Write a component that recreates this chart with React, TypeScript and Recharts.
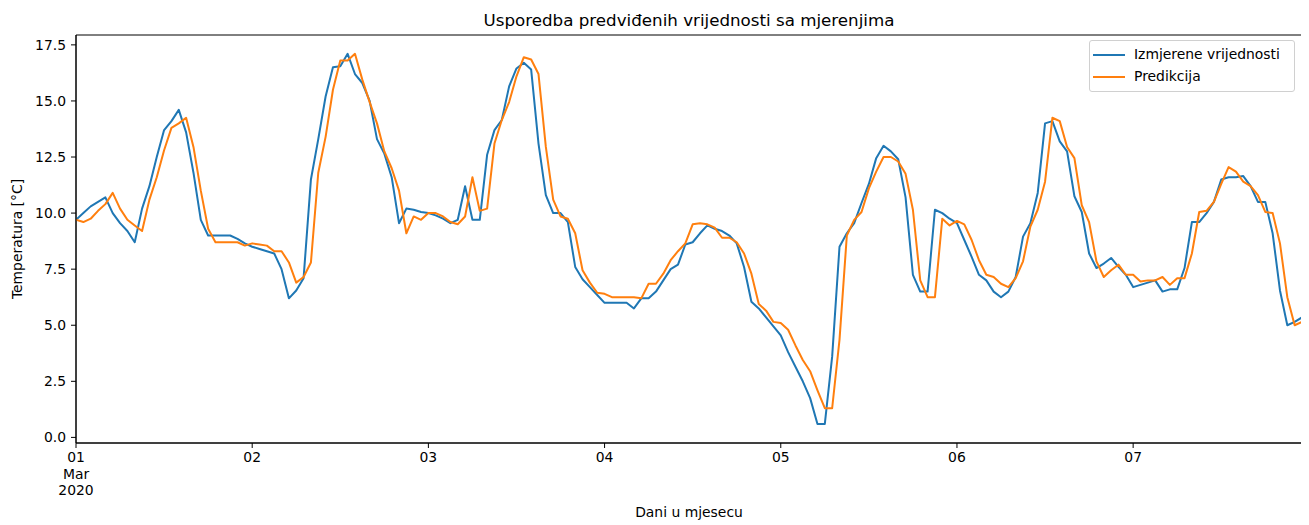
import React from 'react';
import { LineChart, Line, XAxis, YAxis, ReferenceArea } from 'recharts';

// hourly readings, 1 Mar 2020 00:00 .. 7 Mar 2020 23:00
const measured = [
  9.7, 10.0, 10.3, 10.5, 10.7, 10.0, 9.55, 9.2, 8.7, 10.2,
  11.2, 12.5, 13.7, 14.1, 14.6, 13.6, 11.8, 9.7, 9.0, 9.0,
  9.0, 9.0, 8.85, 8.65, 8.5, 8.4, 8.3, 8.2, 7.5, 6.2,
  6.55, 7.1, 11.5, 13.3, 15.2, 16.5, 16.55, 17.1, 16.2, 15.8,
  15.0, 13.3, 12.65, 11.6, 9.55, 10.2, 10.15, 10.05, 10.0, 9.9,
  9.75, 9.55, 9.7, 11.2, 9.7, 9.7, 12.6, 13.7, 14.15, 15.65,
  16.45, 16.7, 16.4, 13.1, 10.8, 10.0, 10.0, 9.6, 7.6, 7.05,
  6.7, 6.35, 6.0, 6.0, 6.0, 6.0, 5.75, 6.2, 6.2, 6.5,
  7.0, 7.5, 7.7, 8.6, 8.7, 9.1, 9.45, 9.3, 9.2, 9.0,
  8.65, 7.6, 6.05, 5.75, 5.35, 4.95, 4.55, 3.8, 3.15, 2.5,
  1.75, 0.6, 0.6, 3.6, 8.5, 9.1, 9.55, 10.45, 11.3, 12.45,
  13.0, 12.75, 12.4, 10.7, 7.25, 6.5, 6.5, 10.15, 10.0, 9.75,
  9.55, 8.8, 8.05, 7.25, 7.0, 6.5, 6.25, 6.5, 7.15, 8.95,
  9.55, 10.9, 14.0, 14.1, 13.2, 12.75, 10.75, 10.05, 8.2, 7.55,
  7.75, 8.0, 7.6, 7.25, 6.7, 6.8, 6.9, 7.0, 6.5, 6.6,
  6.6, 7.55, 9.6, 9.6, 10.0, 10.5, 11.5, 11.6, 11.6, 11.65,
  11.2, 10.5, 10.5, 9.1, 6.55, 5.0, 5.15, 5.35,
];

const predicted = [
  9.7, 9.6, 9.75, 10.1, 10.4, 10.9, 10.2, 9.7, 9.45, 9.2,
  10.6, 11.6, 12.8, 13.8, 14.0, 14.25, 12.95, 11.0, 9.3, 8.7,
  8.7, 8.7, 8.7, 8.55, 8.65, 8.6, 8.55, 8.3, 8.3, 7.8,
  6.9, 7.15, 7.8, 11.8, 13.4, 15.5, 16.8, 16.8, 17.1, 15.95,
  14.95, 14.0, 12.75, 12.0, 11.0, 9.1, 9.85, 9.7, 10.0, 10.0,
  9.85, 9.6, 9.5, 9.85, 11.6, 10.1, 10.2, 13.1, 14.15, 14.95,
  16.1, 16.95, 16.85, 16.2, 12.95, 10.6, 9.85, 9.75, 9.1, 7.45,
  6.9, 6.45, 6.4, 6.25, 6.25, 6.25, 6.25, 6.2, 6.85, 6.85,
  7.3, 7.9, 8.3, 8.65, 9.5, 9.55, 9.5, 9.35, 8.9, 8.9,
  8.7, 8.2, 7.3, 5.95, 5.65, 5.15, 5.1, 4.8, 4.1, 3.45,
  2.95, 2.1, 1.3, 1.3, 4.35, 9.0, 9.7, 10.05, 11.1, 11.85,
  12.5, 12.5, 12.3, 11.75, 10.15, 7.0, 6.25, 6.25, 9.75, 9.45,
  9.65, 9.5, 8.8, 7.9, 7.25, 7.15, 6.85, 6.7, 7.1, 7.85,
  9.4, 10.15, 11.4, 14.25, 14.1, 12.95, 12.45, 10.35, 9.6, 7.85,
  7.15, 7.45, 7.7, 7.25, 7.25, 6.95, 7.0, 7.0, 7.15, 6.8,
  7.1, 7.1, 8.2, 10.05, 10.1, 10.5, 11.3, 12.05, 11.85, 11.4,
  11.2, 10.8, 10.05, 10.0, 8.65, 6.25, 5.0, 5.15,
];

const dayLabels = ['01', '02', '03', '04', '05', '06', '07'];
const monthLabel = 'Mar';
const yearLabel = '2020';
const yTicks = [0, 2.5, 5, 7.5, 10, 12.5, 15, 17.5];

const seriesNames = ['Izmjerene vrijednosti', 'Predikcija'];
const seriesColors = ['#1f77b4', '#ff7f0e'];

const title = 'Usporedba predviđenih vrijednosti sa mjerenjima';
const xTitle = 'Dani u mjesecu';
const yTitle = 'Temperatura [°C]';

const data = measured.map((m, i) => ({ hour: i, measured: m, predicted: predicted[i] }));
const xMax = measured.length - 1;
const dayTicks = dayLabels.map((_, i) => i * 24);
const yMin = -0.25;
const yMax = 17.94;

const FONT = 13.9;

const DayTick = (props: any) => {
  const { x, y, payload } = props;
  const idx = Math.round(payload.value / 24);
  const lines = idx === 0 ? [dayLabels[0], monthLabel, yearLabel] : [dayLabels[idx]];
  return (
    <text x={x} y={y} textAnchor="middle" fill="#000" fontSize={FONT}>
      {lines.map((l, i) => (
        <tspan key={i} x={x} dy={i === 0 ? '0.71em' : '1.2em'}>{l}</tspan>
      ))}
    </text>
  );
};

const App = () => {
  return (
    <div style={{ position: 'relative', width: 1301, height: 517, fontFamily: '"DejaVu Sans", sans-serif', color: '#000' }}>
      <LineChart width={1301} height={517} data={data} margin={{ top: 27, right: 7, bottom: 22, left: 8 }}>
        <XAxis
          dataKey="hour"
          type="number"
          domain={[0, xMax]}
          ticks={dayTicks}
          interval={0}
          height={60}
          tickSize={5}
          tickMargin={4}
          tick={<DayTick />}
          axisLine={{ stroke: '#000' }}
          tickLine={{ stroke: '#000' }}
          allowDataOverflow
        />
        <YAxis
          type="number"
          domain={[yMin, yMax]}
          ticks={yTicks}
          interval={0}
          width={60}
          tickSize={5}
          tickMargin={5}
          tickFormatter={(v: number) => v.toFixed(1)}
          tick={{ fill: '#000', fontSize: FONT }}
          axisLine={{ stroke: '#000' }}
          tickLine={{ stroke: '#000' }}
          allowDataOverflow
        />
        <ReferenceArea x1={0} x2={xMax} y1={yMin} y2={yMax} fill="none" stroke="#000" strokeWidth={1} />
        <Line
          type="linear"
          dataKey="measured"
          name={seriesNames[0]}
          stroke={seriesColors[0]}
          strokeWidth={2}
          strokeLinejoin="round"
          dot={false}
          activeDot={false}
          isAnimationActive={false}
        />
        <Line
          type="linear"
          dataKey="predicted"
          name={seriesNames[1]}
          stroke={seriesColors[1]}
          strokeWidth={2}
          strokeLinejoin="round"
          dot={false}
          activeDot={false}
          isAnimationActive={false}
        />
      </LineChart>

      {/* title and axis labels */}
      <div style={{ position: 'absolute', left: 681, top: 11.5, transform: 'translate(-50%, -50%)', fontSize: 16.7, lineHeight: 1, whiteSpace: 'nowrap' }}>
        {title}
      </div>
      <div style={{ position: 'absolute', left: 681, top: 505, transform: 'translate(-50%, -50%)', fontSize: FONT, lineHeight: 1, whiteSpace: 'nowrap' }}>
        {xTitle}
      </div>
      <div style={{ position: 'absolute', left: 10, top: 231, transform: 'translate(-50%, -50%) rotate(-90deg)', fontSize: FONT, lineHeight: 1, whiteSpace: 'nowrap' }}>
        {yTitle}
      </div>

      {/* legend */}
      <div style={{ position: 'absolute', left: 1081, top: 32, width: 206, height: 52, border: '1px solid #d0d0d0', borderRadius: 3, background: 'rgba(255,255,255,0.8)', boxSizing: 'border-box', paddingTop: 3 }}>
        {seriesNames.map((n, i) => (
          <div key={n} style={{ display: 'flex', alignItems: 'center', height: 22 }}>
            <svg width={44} height={22} style={{ flex: 'none' }}>
              <line x1={3} x2={35} y1={11} y2={11} stroke={seriesColors[i]} strokeWidth={2} />
            </svg>
            <span style={{ fontSize: FONT, lineHeight: 1 }}>{n}</span>
          </div>
        ))}
      </div>
    </div>
  );
};

export default App;
